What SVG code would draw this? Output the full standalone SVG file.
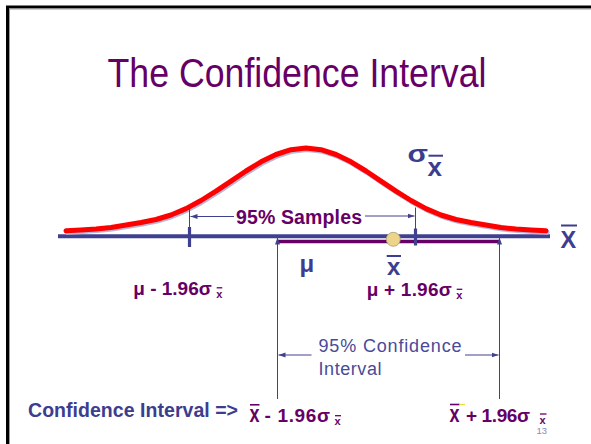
<svg xmlns="http://www.w3.org/2000/svg" width="591" height="444" viewBox="0 0 591 444">
<style>
  .f{font-family:"Liberation Sans",Arial,sans-serif}
  .b{font-weight:bold}
  .pur{fill:#660066}
  .blu{fill:#3d3d8f}
  .thin{stroke:#404090;stroke-width:1;fill:none}
</style>
<defs>
  <marker id="ah" markerUnits="userSpaceOnUse" markerWidth="8" markerHeight="6" refX="7" refY="3" orient="auto">
    <path d="M0,0.5 L7,3 L0,5.5 z" fill="#404090"/>
  </marker>
</defs>
<rect width="591" height="444" fill="#ffffff"/>
<g id="frame">
  <rect x="7.5" y="7" width="620" height="470" fill="none" stroke="#000" stroke-width="3"/>
  <rect x="9.5" y="9" width="620" height="470" fill="none" stroke="#9a9a9a" stroke-width="1"/>
</g>
<g id="title">
  <text class="f" x="107.5" y="86.5" font-size="41" fill="#660066" textLength="379" lengthAdjust="spacingAndGlyphs">The Confidence Interval</text>
</g>
<g id="ci-bar">
  <line x1="278" y1="241.6" x2="499" y2="241.6" stroke="#660066" stroke-width="3.5"/>
</g>
<g id="axis">
  <line x1="58" y1="236.3" x2="550" y2="236.3" stroke="#404090" stroke-width="4"/>
</g>
<g id="curve">
  <polyline points="66,230.8 81,230 96,229 111,227.5 126,225 141,222.5 156,219.5 171,215 186,208.6 201,200.5 216,191.1 231,181.1 246,171 261,161.8 276,154.5 291,149.7 306,148 321,149.7 336,154.5 351,161.8 366,171 381,181.1 396,191.1 411,200.5 426,208.6 441,215 456,219.5 471,222.5 486,225 501,227.5 516,229 531,230 546,230.8" fill="none" stroke="#b8b8d8" stroke-width="5" stroke-linejoin="round" stroke-linecap="round" transform="translate(1.2,1.5)"/>
  <polyline points="66,230.8 81,230 96,229 111,227.5 126,225 141,222.5 156,219.5 171,215 186,208.6 201,200.5 216,191.1 231,181.1 246,171 261,161.8 276,154.5 291,149.7 306,148 321,149.7 336,154.5 351,161.8 366,171 381,181.1 396,191.1 411,200.5 426,208.6 441,215 456,219.5 471,222.5 486,225 501,227.5 516,229 531,230 546,230.8" fill="none" stroke="#ff0000" stroke-width="5" stroke-linejoin="round" stroke-linecap="round"/>
</g>
<g id="connectors">
  <line class="thin" x1="189.5" y1="207" x2="189.5" y2="228"/>
  <line x1="189.5" y1="227" x2="189.5" y2="247" stroke="#404090" stroke-width="3.2"/>
  <line class="thin" x1="415.5" y1="207.5" x2="415.5" y2="229"/>
  <line x1="415.5" y1="228.5" x2="415.5" y2="245.5" stroke="#404090" stroke-width="3.2"/>
  <line class="thin" x1="234" y1="216.5" x2="190.5" y2="216.5" marker-end="url(#ah)"/>
  <line class="thin" x1="365" y1="216" x2="414.5" y2="216" marker-end="url(#ah)"/>
  <line class="thin" x1="277.5" y1="399" x2="277.5" y2="237.5" marker-end="url(#ah)"/>
  <line class="thin" x1="499.5" y1="399" x2="499.5" y2="237.5" marker-end="url(#ah)"/>
  <line class="thin" x1="311.5" y1="355" x2="278.5" y2="355" marker-end="url(#ah)"/>
  <line class="thin" x1="465" y1="355" x2="498.5" y2="355" marker-end="url(#ah)"/>
</g>
<g id="xbar-point">
  <circle cx="393.3" cy="239.3" r="7" fill="#ecd48a" stroke="#a89a70" stroke-width="0.8"/>
</g>
<g id="samples-label">
  <text class="f b pur" x="236" y="224" font-size="19.5" textLength="126">95% Samples</text>
</g>
<g id="sigma-label">
  <text class="f b blu" font-size="23" transform="translate(407.5,161.5) scale(1.3,1)">σ</text>
  <text class="f b blu" x="427.5" y="176" font-size="26">x</text>
  <line x1="428.5" y1="155.7" x2="443" y2="155.7" stroke="#3d3d8f" stroke-width="2"/>
</g>
<g id="X-axis-label">
  <text class="f b blu" x="560.5" y="248.3" font-size="23.5">X</text>
  <line x1="561" y1="225.5" x2="577" y2="225.5" stroke="#3d3d8f" stroke-width="2"/>
</g>
<g id="mu-label">
  <text class="f b blu" x="299.5" y="272" font-size="24">μ</text>
</g>
<g id="xbar-label">
  <text class="f b blu" x="387" y="275" font-size="24">x</text>
  <line x1="386.7" y1="256" x2="401" y2="256" stroke="#3d3d8f" stroke-width="2"/>
</g>
<g id="lower-limit">
  <text class="f b pur" x="133.3" y="294.5" font-size="19" textLength="78.4">μ - 1.96σ</text>
  <text class="f b pur" x="216.3" y="297.7" font-size="11">x</text>
  <line x1="216.7" y1="287.8" x2="222.3" y2="287.8" stroke="#660066" stroke-width="1.3"/>
</g>
<g id="upper-limit">
  <text class="f b pur" x="366.7" y="295.5" font-size="19" textLength="85">μ + 1.96σ</text>
  <text class="f b pur" x="456.3" y="298.5" font-size="11">x</text>
  <line x1="456.7" y1="289.3" x2="462.3" y2="289.3" stroke="#660066" stroke-width="1.3"/>
</g>
<g id="ci-label">
  <text class="f" x="318.5" y="351.7" font-size="18" fill="#4a4a98" textLength="143">95% Confidence</text>
  <text class="f" x="318.5" y="375" font-size="18" fill="#4a4a98" textLength="63">Interval</text>
</g>
<g id="ci-formula-label">
  <text class="f b blu" x="28" y="416.5" font-size="19.5" textLength="210">Confidence Interval =&gt;</text>
</g>
<g id="ci-lower">
  <text class="f b pur" font-size="24" transform="translate(249.5,422.3) scale(0.75,1)">x</text>
  <text class="f b pur" x="264.5" y="422.3" font-size="19" textLength="65.5">- 1.96σ</text>
  <text class="f b pur" x="334.5" y="424.5" font-size="11">x</text>
  <line x1="335" y1="415.7" x2="341" y2="415.7" stroke="#660066" stroke-width="1.3"/>
  <line x1="250" y1="404.8" x2="259.5" y2="404.8" stroke="#660066" stroke-width="1.6"/>
</g>
<g id="ci-upper">
  <text class="f b pur" font-size="24" transform="translate(449.5,422.3) scale(0.75,1)">x</text>
  <text class="f b pur" x="466" y="422.3" font-size="19" textLength="64">+ 1.96σ</text>
  <text class="f b pur" x="539.5" y="424.3" font-size="11">x</text>
  <line x1="540" y1="414" x2="546.5" y2="414" stroke="#660066" stroke-width="1.3"/>
  <line x1="450" y1="404.5" x2="459.5" y2="404.5" stroke="#660066" stroke-width="1.6"/>
  <line x1="459.5" y1="404.5" x2="465" y2="404.5" stroke="#e6e040" stroke-width="1.2"/>
</g>
<g id="page-number">
  <text class="f" x="536.5" y="434" font-size="9.5" fill="#8a8ab8">13</text>
</g>
</svg>
